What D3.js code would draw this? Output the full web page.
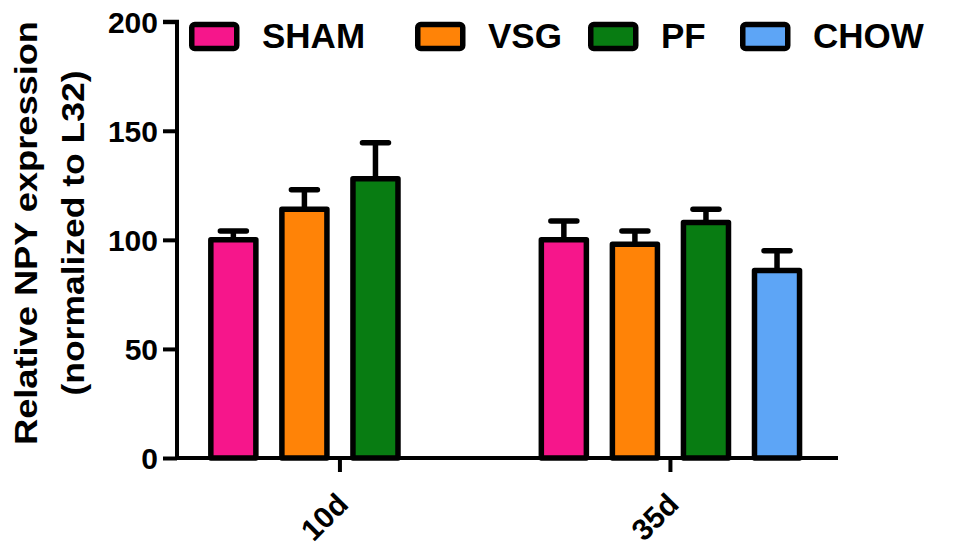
<!DOCTYPE html>
<html>
<head>
<meta charset="utf-8">
<script src="https://cdn.jsdelivr.net/npm/d3@7"></script>
<style>
  html, body { margin: 0; padding: 0; background: #fff; }
  svg { display: block; }
  text { font-family: "Liberation Sans", Arial, sans-serif; font-weight: bold; fill: #000; }
</style>
</head>
<body>
<svg id="chart" width="976" height="546"></svg>
<script>
// ---- data ----
const groups = ["10d", "35d"];
const seriesNames = ["SHAM", "VSG", "PF", "CHOW"];
const seriesColors = ["#F6168B", "#FF8307", "#087C12", "#5DA5F6"];
const means10d = [100, 114, 128, null];
const means35d = [100, 98, 108, 86];
const sem10d = [4, 9, 16.5, null];
const sem35d = [8.6, 6, 6, 9];
const yTicks = [0, 50, 100, 150, 200];
const yLabelLines = ["Relative NPY expression", "(normalized to L32)"];

const table = [];
groups.forEach((g, gi) => {
  const m = gi === 0 ? means10d : means35d;
  const e = gi === 0 ? sem10d : sem35d;
  seriesNames.forEach((s, si) => {
    if (m[si] != null) table.push({ group: g, series: s, value: m[si], err: e[si], color: seriesColors[si] });
  });
});

// ---- layout ----
const svg = d3.select("#chart");
const x0 = 177, x1 = 838, yBottom = 458, yTop = 21.7;

const xOuter = d3.scaleBand().domain(groups).range([x0, x1])
  .paddingInner(0.14).paddingOuter(0.07).align(0.45);
const xInner = d3.scaleBand().domain(seriesNames).range([0, xOuter.bandwidth()])
  .paddingInner(0.366).paddingOuter(0.183);
const y = d3.scaleLinear().domain([0, 200]).range([yBottom, yTop]);

const sw = 5.5;
const aw = 4;

// error bars (behind bars)
const eb = svg.append("g");
table.forEach(d => {
  const cx = xOuter(d.group) + xInner(d.series) + xInner.bandwidth() / 2;
  eb.append("line").attr("x1", cx).attr("x2", cx)
    .attr("y1", y(d.value)).attr("y2", y(d.value + d.err))
    .attr("stroke", "#000").attr("stroke-width", sw);
  eb.append("line").attr("x1", cx - 13).attr("x2", cx + 13)
    .attr("y1", y(d.value + d.err)).attr("y2", y(d.value + d.err))
    .attr("stroke", "#000").attr("stroke-width", sw).attr("stroke-linecap", "round");
});

// bars
svg.append("g").selectAll("rect").data(table).join("rect")
  .attr("x", d => xOuter(d.group) + xInner(d.series))
  .attr("y", d => y(d.value))
  .attr("width", xInner.bandwidth())
  .attr("height", d => y(0) - y(d.value))
  .attr("fill", d => d.color)
  .attr("stroke", "#000").attr("stroke-width", sw)
  .attr("stroke-linejoin", "round");

// y axis
const yAxis = svg.append("g").attr("transform", `translate(${x0},0)`)
  .call(d3.axisLeft(y).tickValues(yTicks).tickSize(14).tickPadding(5));
yAxis.select(".domain").attr("d", `M-14,${y(200)}H0V${yBottom}`)
  .attr("stroke", "#000").attr("stroke-width", aw).attr("fill", "none");
yAxis.selectAll(".tick line").attr("stroke", "#000").attr("stroke-width", aw);
yAxis.selectAll(".tick text").attr("font-size", 30).attr("font-family", "Liberation Sans, Arial, sans-serif")
  .attr("font-weight", "bold").attr("fill", "#000").attr("dy", "0.36em");

// x axis
const xAxis = svg.append("g").attr("transform", `translate(0,${yBottom})`)
  .call(d3.axisBottom(xOuter).tickSize(14).tickSizeOuter(0));
xAxis.select(".domain").attr("d", `M${x0 - 2},0H${x1}`).attr("stroke", "#000").attr("stroke-width", aw);
xAxis.selectAll(".tick line").attr("stroke", "#000").attr("stroke-width", aw);
xAxis.selectAll(".tick text")
  .attr("font-size", 30).attr("font-family", "Liberation Sans, Arial, sans-serif")
  .attr("font-weight", "bold").attr("fill", "#000")
  .attr("text-anchor", "end").attr("dy", 0).attr("y", 0)
  .attr("transform", "translate(10,48) rotate(-45)");

// y label
const yl = svg.append("g").attr("transform", "translate(0,233) rotate(-90)");
yl.append("text").attr("x", 0).attr("y", 37).attr("text-anchor", "middle")
  .attr("font-size", 31).attr("textLength", 424).attr("lengthAdjust", "spacingAndGlyphs")
  .text(yLabelLines[0]);
yl.append("text").attr("x", 0).attr("y", 84).attr("text-anchor", "middle")
  .attr("font-size", 31).attr("textLength", 325).attr("lengthAdjust", "spacingAndGlyphs")
  .text(yLabelLines[1]);

// legend
const legendX = [189, 415, 588, 740];
const leg = svg.append("g");
seriesNames.forEach((s, i) => {
  const lx = legendX[i];
  leg.append("rect").attr("x", lx + 2.75).attr("y", 24.5).attr("width", 45).attr("height", 24)
    .attr("rx", 3).attr("fill", seriesColors[i]).attr("stroke", "#000").attr("stroke-width", sw);
  leg.append("text").attr("x", lx + 73).attr("y", 48).attr("font-size", 35).text(s);
});
</script>
</body>
</html>
